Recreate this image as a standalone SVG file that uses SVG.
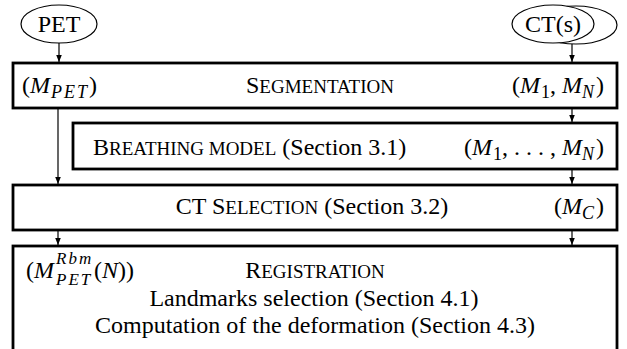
<svg xmlns="http://www.w3.org/2000/svg" width="627" height="349" viewBox="0 0 627 349">
<style>
text{font-family:"Liberation Serif","Times New Roman",serif;font-size:24px;fill:#000}
.box{fill:#fff;stroke:#000;stroke-width:2.8}
.ell{fill:#fff;stroke:#000;stroke-width:1.2}
.conn{stroke:#000;stroke-width:1.2;fill:none}
.i{font-style:italic}
.sc{font-size:19px}
.sub{font-size:18px;font-style:italic;letter-spacing:2px}
.subu{font-size:18px}
.ss{font-size:17px;font-style:italic;letter-spacing:2px}
</style>
<defs>
<marker id="arr" markerWidth="8" markerHeight="8" refX="7" refY="4" orient="auto" markerUnits="userSpaceOnUse">
<path d="M0,1.2 L7,4 L0,6.8 Z" fill="#000"/>
</marker>
</defs>
<g id="pet">
<ellipse class="ell" cx="59" cy="24" rx="38" ry="19"/>
<text x="59" y="32" text-anchor="middle">PET</text>
</g>
<g id="cts">
<ellipse class="ell" cx="576" cy="25" rx="41" ry="19"/>
<ellipse class="ell" cx="553" cy="24" rx="41" ry="19"/>
<text x="553" y="32" text-anchor="middle">CT(s)</text>
</g>
<g id="segmentation">
<rect class="box" x="13" y="63" width="604" height="45"/>
<text x="22" y="93">(<tspan class="i">M</tspan><tspan class="sub" dx="1" dy="5">PET</tspan><tspan dy="-5">)</tspan></text>
<text x="320" y="93" text-anchor="middle">S<tspan class="sc">EGMENTATION</tspan></text>
<text x="604" y="93" text-anchor="end">(<tspan class="i">M</tspan><tspan class="subu" dx="1" dy="5">1</tspan><tspan dy="-5">,  </tspan><tspan class="i">M</tspan><tspan class="sub" dy="5">N</tspan><tspan dy="-5">)</tspan></text>
</g>
<g id="breathing">
<rect class="box" x="73" y="123" width="544" height="46"/>
<text x="93" y="155">B<tspan class="sc">REATHING MODEL</tspan> (Section 3.1)</text>
<text x="604" y="155" text-anchor="end">(<tspan class="i">M</tspan><tspan class="subu" dx="1" dy="5">1</tspan><tspan dy="-5">, . . . , </tspan><tspan class="i">M</tspan><tspan class="sub" dy="5">N</tspan><tspan dy="-5">)</tspan></text>
</g>
<g id="ctselection">
<rect class="box" x="13" y="185" width="604" height="45"/>
<text x="312" y="214" text-anchor="middle">CT S<tspan class="sc">ELECTION</tspan> (Section 3.2)</text>
<text x="604" y="214" text-anchor="end">(<tspan class="i">M</tspan><tspan class="sub" dy="5">C</tspan><tspan dy="-5">)</tspan></text>
</g>
<g id="registration">
<rect class="box" x="13" y="246" width="604" height="120"/>
<text x="26" y="278">(<tspan class="i">M</tspan></text>
<text class="ss" x="56" y="264">Rbm</text>
<text class="ss" x="56" y="285">PET</text>
<text x="94" y="278">(<tspan class="i">N</tspan>))</text>
<text x="315" y="278" text-anchor="middle">R<tspan class="sc">EGISTRATION</tspan></text>
<text x="314" y="306" text-anchor="middle">Landmarks selection (Section 4.1)</text>
<text x="315" y="333" text-anchor="middle">Computation of the deformation (Section 4.3)</text>
</g>
<g id="connectors">
<line class="conn" x1="59" y1="43" x2="59" y2="62" marker-end="url(#arr)"/>
<line class="conn" x1="572" y1="44" x2="572" y2="62" marker-end="url(#arr)"/>
<line class="conn" x1="572" y1="108" x2="572" y2="122" marker-end="url(#arr)"/>
<line class="conn" x1="58" y1="108" x2="58" y2="184" marker-end="url(#arr)"/>
<line class="conn" x1="572" y1="169" x2="572" y2="184" marker-end="url(#arr)"/>
<line class="conn" x1="58" y1="230" x2="58" y2="245" marker-end="url(#arr)"/>
<line class="conn" x1="572" y1="230" x2="572" y2="245" marker-end="url(#arr)"/>
</g>
</svg>
